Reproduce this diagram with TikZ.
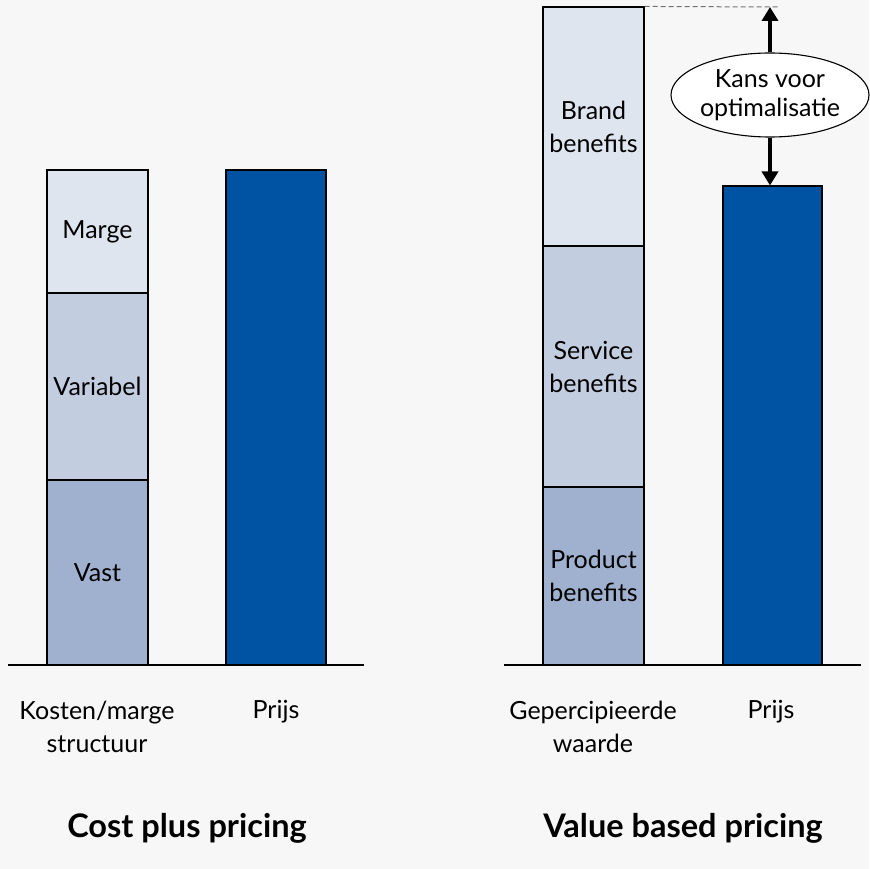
\documentclass[tikz,border=0pt]{standalone}
\usepackage{fontspec}
\setmainfont{Lato}
\usetikzlibrary{positioning,shapes.geometric,arrows.meta}
\definecolor{achtergrond}{HTML}{F7F7F7}
\definecolor{licht}{HTML}{DFE5EF}
\definecolor{midden}{HTML}{C3CDE0}
\definecolor{donker}{HTML}{9FB1CF}
\definecolor{prijsblauw}{HTML}{0052A3}

\begin{document}
\begin{tikzpicture}[x=1pt, y=-1pt, font=\fontsize{25}{33}\selectfont,
    bar/.style={draw=black, line width=1.1pt, minimum width=101pt, inner sep=0pt, align=center},
    label/.style={align=center, inner sep=0pt},
    titel/.style={font=\fontsize{32.5}{36}\selectfont\bfseries, inner sep=0pt}]
    \fill[achtergrond] (0,0) rectangle (869,869);
    \useasboundingbox (0,0) rectangle (869,869);
    % kosten/marge
    \node[bar, fill=licht, minimum height=123pt] (marge) at (97.5,231.5) {Marge};
    \node[bar, fill=midden, minimum height=187pt] (variabel) at (97.5,386.5) {Variabel};
    \node[bar, fill=donker, minimum height=185pt] (vast) at (97.5,572.5) {Vast};
    \node[bar, fill=prijsblauw, minimum height=495pt, minimum width=100pt] (prijs1) at (276,417.5) {};
    % waarde
    \node[bar, fill=licht, minimum height=239pt] (brand) at (593.5,126.5) {Brand\\benefits};
    \node[bar, fill=midden, minimum height=241pt] (service) at (593.5,366.5) {Service\\benefits};
    \node[bar, fill=donker, minimum height=178pt] (product) at (593.5,576) {Product\\benefits};
    \node[bar, fill=prijsblauw, minimum height=479pt, minimum width=99pt] (prijs2) at (772.5,425.5) {};
    % assen
    \coordinate (as1a) at (8,665);
    \coordinate (as1b) at (364,665);
    \coordinate (as2a) at (504,665);
    \coordinate (as2b) at (861,665);
    \draw[line width=1.1pt] (as1a) -- (as1b);
    \draw[line width=1.1pt] (as2a) -- (as2b);
    % kans
    \coordinate (top) at (779,7);
    \draw[line width=1pt, black!55, dash pattern=on 5pt off 3pt] (brand.north east) -- (top);
    \node[ellipse, draw=black, fill=white, line width=1.1pt, minimum width=196pt, minimum height=84pt, inner sep=0pt, align=center,
      font=\fontsize{25}{29}\selectfont] (kans) at (770,95) {Kans voor\\optimalisatie};
    \draw[line width=3.5pt, -{Triangle[length=14pt, width=16pt]}] (kans.north) -- (kans.north |- top);
    \draw[line width=3.5pt, -{Triangle[length=14pt, width=16pt]}] (kans.south) -- (kans.south |- prijs2.north);
    % labels
    \node[label] (l1) at (97,727) {Kosten/marge\\structuur};
    \node[label, anchor=base] (l2) at (276,718) {Prijs};
    \node[label] (l3) at (593,727) {Gepercipieerde\\waarde};
    \node[label, anchor=base] (l4) at (771,718) {Prijs};
    \node[titel] (t1) at (187,828) {Cost plus pricing};
    \node[titel] (t2) at (683,828) {Value based pricing};
\end{tikzpicture}
\end{document}
